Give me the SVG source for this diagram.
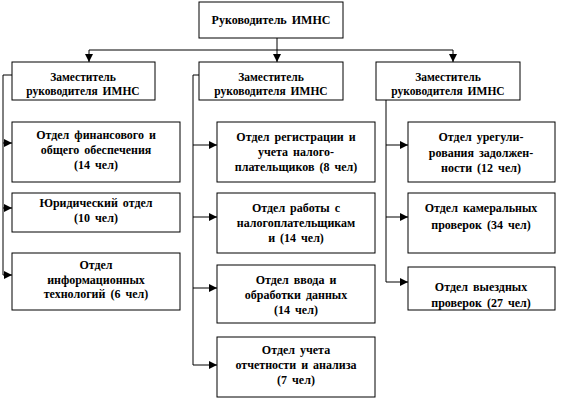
<svg xmlns="http://www.w3.org/2000/svg" width="568" height="400" viewBox="0 0 568 400">
<defs>
<marker id="ah" viewBox="0 0 8 8" refX="8" refY="4" markerWidth="8" markerHeight="8" markerUnits="userSpaceOnUse" orient="auto">
<path d="M0,0 L8,4 L0,8 Z" fill="#000"/>
</marker>
</defs>
<style>
rect{fill:#fff;stroke:#000;stroke-width:1}
text{font-family:"Liberation Serif","Times New Roman",serif;font-weight:bold;font-size:12px;text-anchor:middle;fill:#000;word-spacing:2px}
.d{font-size:11.5px}
.c{fill:none;stroke:#000;stroke-width:1}
</style>
<rect x="0" y="0" width="568" height="400" style="fill:#fff;stroke:none"/>
<g id="connectors">
<path class="c" d="M277,38 V50 M89,50 H453"/>
<path class="c" d="M89,50 V62" marker-end="url(#ah)"/>
<path class="c" d="M277,50 V62" marker-end="url(#ah)"/>
<path class="c" d="M453,50 V62" marker-end="url(#ah)"/>
<path class="c" d="M12,75 H3 V275"/>
<path class="c" d="M3,143 H12" marker-end="url(#ah)"/>
<path class="c" d="M3,208 H12" marker-end="url(#ah)"/>
<path class="c" d="M3,275 H12" marker-end="url(#ah)"/>
<path class="c" d="M199,75 H193 V365"/>
<path class="c" d="M193,145 H217" marker-end="url(#ah)"/>
<path class="c" d="M193,217 H217" marker-end="url(#ah)"/>
<path class="c" d="M193,288 H217" marker-end="url(#ah)"/>
<path class="c" d="M193,365 H217" marker-end="url(#ah)"/>
<path class="c" d="M376,75 H386 V282"/>
<path class="c" d="M386,145 H408" marker-end="url(#ah)"/>
<path class="c" d="M386,217 H408" marker-end="url(#ah)"/>
<path class="c" d="M386,282 H408" marker-end="url(#ah)"/>
</g>
<g id="head"><rect x="199" y="2" width="144" height="36"/><text x="271" y="24">Руководитель  ИМНС</text></g>
<g id="dep1"><rect x="12" y="62" width="143" height="38"/><text class="d" x="83" y="81">Заместитель</text><text class="d" x="83" y="95">руководителя  ИМНС</text></g>
<g id="dep2"><rect x="199" y="62" width="144" height="38"/><text class="d" x="271" y="81">Заместитель</text><text class="d" x="271" y="95">руководителя  ИМНС</text></g>
<g id="dep3"><rect x="376" y="62" width="144" height="38"/><text class="d" x="448" y="81">Заместитель</text><text class="d" x="448" y="95">руководителя  ИМНС</text></g>
<g id="l1"><rect x="12" y="122" width="168" height="60"/><text x="96" y="139">Отдел финансового  и</text><text x="96" y="154">общего  обеспечения</text><text x="96" y="169">(14 чел)</text></g>
<g id="l2"><rect x="12" y="193" width="168" height="39"/><text x="96" y="207">Юридический  отдел</text><text x="96" y="222">(10 чел)</text></g>
<g id="l3"><rect x="12" y="253" width="168" height="57"/><text x="96" y="269">Отдел</text><text x="96" y="284">информационных</text><text x="96" y="298">технологий  (6 чел)</text></g>
<g id="m1"><rect x="217" y="122" width="158" height="60"/><text x="296" y="141">Отдел регистрации  и</text><text x="296" y="156">учета  налого-</text><text x="296" y="171">плательщиков   (8 чел)</text></g>
<g id="m2"><rect x="217" y="193" width="158" height="60"/><text x="296" y="212">Отдел работы  с</text><text x="296" y="227">налогоплательщикам</text><text x="296" y="242">и (14 чел)</text></g>
<g id="m3"><rect x="217" y="265" width="158" height="58"/><text x="296" y="284">Отдел ввода  и</text><text x="296" y="299">обработки  данных</text><text x="296" y="314">(14 чел)</text></g>
<g id="m4"><rect x="217" y="337" width="158" height="60"/><text x="296" y="354">Отдел учета</text><text x="296" y="369">отчетности  и анализа</text><text x="296" y="384">(7 чел)</text></g>
<g id="r1"><rect x="408" y="122" width="147" height="60"/><text x="481" y="141">Отдел урегули-</text><text x="481" y="157">рования  задолжен-</text><text x="481" y="172">ности  (12 чел)</text></g>
<g id="r2"><rect x="408" y="193" width="147" height="60"/><text x="481" y="212">Отдел камеральных</text><text x="481" y="229">проверок  (34 чел)</text></g>
<g id="r3"><rect x="408" y="267" width="147" height="43"/><text x="481" y="291">Отдел выездных</text><text x="481" y="307">проверок  (27 чел)</text></g>
</svg>
